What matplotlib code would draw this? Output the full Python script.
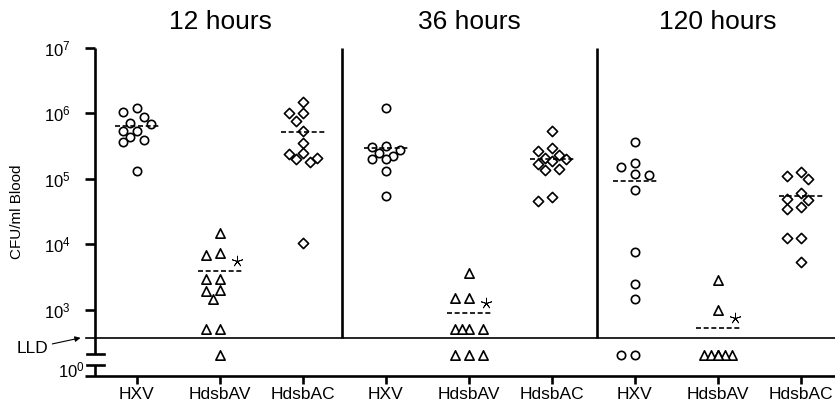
import numpy as np
import matplotlib.pyplot as plt
from matplotlib.transforms import blended_transform_factory

plt.rcParams['font.family'] = ['Liberation Sans', 'DejaVu Sans']
plt.rcParams['mathtext.fontset'] = 'custom'
plt.rcParams['mathtext.rm'] = 'Liberation Sans'

times = ['12 hours', '36 hours', '120 hours']
strains = ['HXV', 'HdsbAV', 'HdsbAC']

# CFU/ml blood, 0 = below lower limit of detection
hxv_12 = [1.22e6, 1.06e6, 8.9e5, 7.1e5, 6.8e5, 5.4e5, 5.4e5, 4.3e5, 3.9e5, 3.6e5, 1.3e5]
av_12 = [1.5e4, 7.3e3, 6.8e3, 2.9e3, 2.9e3, 2.0e3, 1.95e3, 1.45e3, 500, 500, 0]
ac_12 = [1.5e6, 1.03e6, 1.0e6, 7.7e5, 5.4e5, 3.5e5, 2.5e5, 2.4e5, 2.1e5, 2.0e5, 1.8e5, 1.03e4]

hxv_36 = [1.2e6, 3.2e5, 3.1e5, 2.75e5, 2.5e5, 2.2e5, 2.0e5, 2.0e5, 1.33e5, 5.5e4]
av_36 = [3.6e3, 1.5e3, 1.5e3, 500, 500, 500, 500, 0, 0, 0]
ac_36 = [5.4e5, 3.0e5, 2.7e5, 2.3e5, 2.1e5, 2.0e5, 1.9e5, 1.7e5, 1.4e5, 1.36e5, 5.2e4, 4.6e4]

hxv_120 = [3.7e5, 1.76e5, 1.5e5, 1.2e5, 1.14e5, 6.7e4, 7.7e3, 2.5e3, 1.45e3, 0, 0]
av_120 = [2.8e3, 1.0e3, 0, 0, 0, 0, 0, 0, 0]
ac_120 = [1.29e5, 1.1e5, 9.8e4, 6.1e4, 4.9e4, 4.7e4, 3.7e4, 3.5e4, 1.23e4, 1.23e4, 5.4e3]

groups = [hxv_12, av_12, ac_12, hxv_36, av_36, ac_36, hxv_120, av_120, ac_120]
means = [6.4e5, 3.9e3, 5.25e5, 3.0e5, 900, 2.0e5, 9.2e4, 520, 5.45e4]
signif = [False, True, False, False, True, False, False, True, False]

LLD = 370          # where the detection-limit line sits
ND_POS = 10**2.30  # where undetected samples are drawn (broken part of axis)
markers = {'HXV': ('o', 36), 'HdsbAV': ('^', 45), 'HdsbAC': ('D', 27)}

PX_X = 82.9   # px per category
PX_Y = 65.4   # px per decade


def swarm(logy, step=7.0, min_d=9.5, kmax=2):
    cands = [0]
    for k in range(1, kmax + 1):
        cands += [-k, k]
    placed = []
    for y in logy:
        best, best_d = 0.0, -1
        for c in cands:
            x = c * step
            d = min([np.hypot(x - px, (y - py) * PX_Y) for px, py in placed], default=1e9)
            if d >= min_d:
                best = x
                break
            if d > best_d:
                best, best_d = x, d
        placed.append((best, y))
    return [p[0] / PX_X for p in placed]


fig = plt.figure(figsize=(8.35, 4.04), dpi=100)
ax = fig.add_axes([95 / 835, 28 / 404, 740 / 835, 328 / 404])
ax.set_yscale('log')
xl, xr = -0.506, 8.41
ybot = 10**1.985
ax.set_xlim(xl, xr)
ax.set_ylim(ybot, 1e7)
for s in ax.spines.values():
    s.set_visible(False)

for i, vals in enumerate(groups):
    vals = np.array(vals, dtype=float)
    ypos = np.where(vals > 0, vals, ND_POS)
    offs = swarm(np.log10(ypos))
    m, sz = markers[strains[i % 3]]
    ax.scatter(i + np.array(offs), ypos, marker=m, s=sz, facecolors='white',
               edgecolors='black', linewidths=1.2, zorder=3, clip_on=False)
    ax.hlines(means[i], i - 0.26, i + 0.26, colors='black', lw=1.2,
              linestyles=(0, (3, 1.6)), zorder=4)
    if signif[i]:
        ax.scatter([i + 0.2], [means[i] * 10**0.15], marker=(5, 2, 0), s=60,
                   color='black', linewidths=0.6, zorder=4)

# axis lines and break
lw = 1.9
ax.plot([xl, xl], [1e7, 10**2.32], color='black', lw=lw, clip_on=False, solid_capstyle='butt')
ax.plot([xl, xl], [10**2.153, ybot], color='black', lw=lw, clip_on=False, solid_capstyle='butt')
for yb in [10**2.32, 10**2.153]:
    ax.plot([-0.603, -0.398], [yb, yb], color='black', lw=lw, clip_on=False)
ax.plot([-0.63, xr], [ybot, ybot], color='black', lw=lw, clip_on=False, solid_capstyle='butt')
ax.plot([-0.62, xr], [LLD, LLD], color='black', lw=1.2, clip_on=False)
for xd in [2.47, 5.54]:
    ax.plot([xd, xd], [LLD, 1e7], color='black', lw=lw, solid_capstyle='butt')

ax.set_yticks([1e3, 1e4, 1e5, 1e6, 1e7])
ax.set_yticklabels([r'$\mathregular{10^{%d}}$' % e for e in range(3, 8)])
ax.yaxis.set_minor_locator(plt.NullLocator())
ax.tick_params(axis='y', length=7.5, width=lw, pad=10, labelsize=12)
ax.set_xticks(range(9))
ax.set_xticklabels(strains * 3)
ax.tick_params(axis='x', length=6, width=lw, pad=2, labelsize=12.5)

ax.text(xl - 0.12, 10**2.07, r'$\mathregular{10^{0}}$', ha='right', va='center', fontsize=12)
ax.annotate('LLD', xy=(-0.68, LLD), xytext=(-1.07, 10**2.41), ha='right', va='center',
            fontsize=12.5, annotation_clip=False,
            arrowprops=dict(arrowstyle='-|>', lw=0.8, color='black', mutation_scale=8,
                            shrinkA=1, shrinkB=0))

fig.text(17 / 835, 1 - 212 / 404, 'CFU/ml Blood', rotation=90, ha='center', va='center', fontsize=11)
tr = blended_transform_factory(ax.transData, fig.transFigure)
for k, t in enumerate(times):
    ax.text(3 * k + 1, 1 - 22 / 404, t, transform=tr, ha='center', va='center', fontsize=19)

fig.savefig('out.png', dpi=100)
